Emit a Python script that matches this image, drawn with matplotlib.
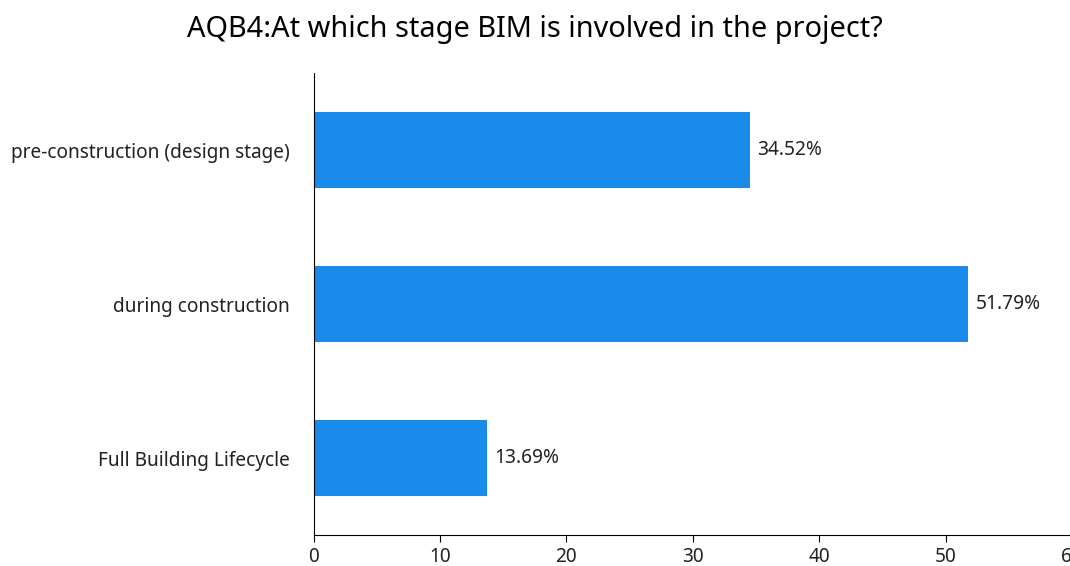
import matplotlib.pyplot as plt

categories = ['pre-construction (design stage)', 'during construction', 'Full Building Lifecycle']
values = [34.52, 51.79, 13.69]
labels = ['34.52%', '51.79%', '13.69%']

plt.rcParams['font.family'] = ['Noto Sans', 'DejaVu Sans']

fig = plt.figure(figsize=(10.7, 5.66), dpi=100)
ax = fig.add_axes([0.293, 0.0548, 0.709, 0.816])

ypos = [2, 1, 0]
ax.barh(ypos, values, height=0.49, color='#1A8AEA')
for y, v, t in zip(ypos, values, labels):
    ax.text(v + 0.6, y, t, va='center', ha='left', fontsize=13.8, color='#222222')

ax.set_xlim(0, 60)
ax.set_ylim(-0.5, 2.5)
ax.set_xticks(range(0, 61, 10))
ax.set_yticks(ypos)
ax.set_yticklabels(categories)
ax.tick_params(axis='y', length=0, pad=17, labelsize=13.7, labelcolor='#222222')
ax.tick_params(axis='x', length=5, labelsize=13.7, labelcolor='#222222')
for s in ['top', 'right']:
    ax.spines[s].set_visible(False)

fig.suptitle('AQB4:At which stage BIM is involved in the project?', fontsize=20.8, y=0.973, x=0.5)
fig.savefig('out.png', dpi=100)
